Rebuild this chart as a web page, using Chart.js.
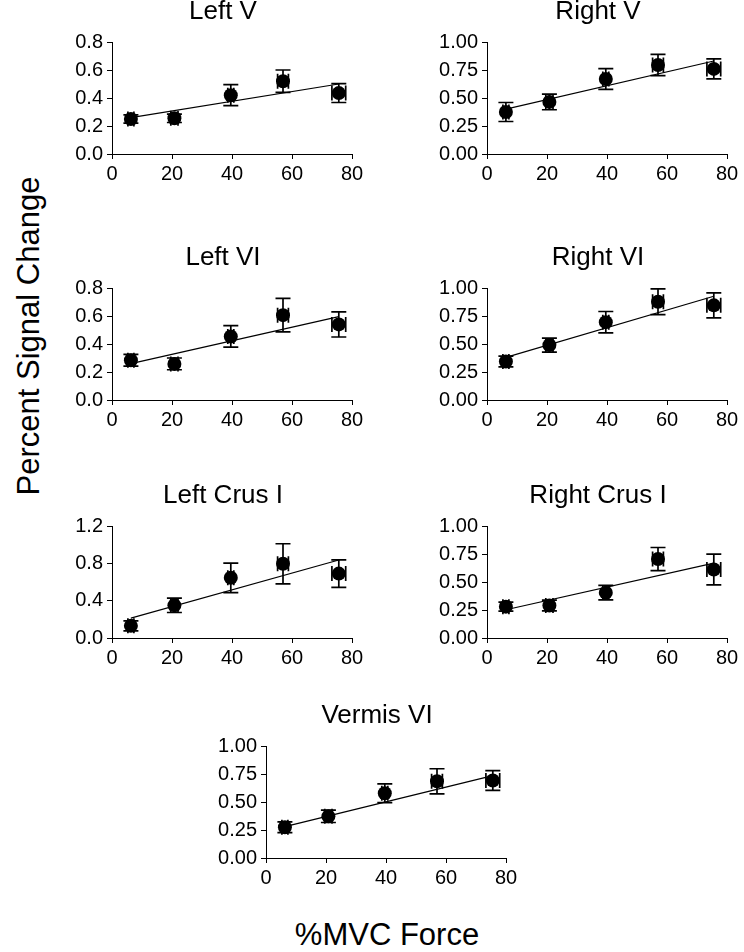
<!DOCTYPE html>
<html><head><meta charset="utf-8">
<script src="https://cdn.jsdelivr.net/npm/chart.js@4/dist/chart.umd.min.js"></script>
<style>
html,body{margin:0;padding:0;background:#fff;}
body{width:744px;height:952px;position:relative;overflow:hidden;font-family:"Liberation Sans",Arial,sans-serif;color:#000;}
.panel{position:absolute;}
#ytitle{position:absolute;left:28px;top:336px;transform:translate(-50%,-50%) rotate(-90deg);font-size:31px;white-space:nowrap;line-height:1;}
#xtitle{position:absolute;left:387px;top:934px;transform:translate(-50%,-50%);font-size:31px;white-space:nowrap;line-height:1;}
</style></head>
<body>
<div id="ytitle">Percent Signal Change</div>
<div id="xtitle">%MVC Force</div>
<script>
// ---- data ----
const panelTitles = ['Left V', 'Right V', 'Left VI', 'Right VI', 'Left Crus I', 'Right Crus I', 'Vermis VI'];
const forceX    = [6.3, 20.8, 39.6, 57.0, 75.6];
const forceXErr = [1.0, 1.2, 1.0, 1.8, 2.3];

const leftV      = [0.250, 0.255, 0.420, 0.520, 0.435];
const leftVErr   = [0.030, 0.030, 0.075, 0.080, 0.067];
const rightV     = [0.375, 0.465, 0.670, 0.795, 0.760];
const rightVErr  = [0.085, 0.070, 0.093, 0.095, 0.090];
const leftVI     = [0.284, 0.258, 0.454, 0.606, 0.540];
const leftVIErr  = [0.042, 0.042, 0.077, 0.120, 0.090];
const rightVI    = [0.344, 0.490, 0.695, 0.877, 0.845];
const rightVIErr = [0.048, 0.063, 0.095, 0.115, 0.112];
const leftCrusI     = [0.130, 0.350, 0.645, 0.795, 0.690];
const leftCrusIErr  = [0.053, 0.077, 0.158, 0.215, 0.147];
const rightCrusI    = [0.280, 0.290, 0.405, 0.705, 0.612];
const rightCrusIErr = [0.040, 0.048, 0.065, 0.103, 0.137];
const vermisVI      = [0.275, 0.372, 0.578, 0.685, 0.692];
const vermisVIErr   = [0.048, 0.055, 0.084, 0.112, 0.089];

// regression line end values at fitX
const fitX = [6.3, 75.6];
const leftVFit      = [0.260, 0.500];
const rightVFit     = [0.400, 0.830];
const leftVIFit     = [0.260, 0.596];
const rightVIFit    = [0.380, 0.926];
const leftCrusIFit  = [0.213, 0.836];
const rightCrusIFit = [0.252, 0.668];
const vermisVIFit   = [0.280, 0.735];

const yTickMax      = [0.8, 1.0, 0.8, 1.0, 1.2, 1.0, 1.0];
const yTickStep     = [0.2, 0.25, 0.2, 0.25, 0.4, 0.25, 0.25];
const yTickDecimals = [1, 2, 1, 2, 1, 2, 2];
const xTickMax = 80, xTickStep = 20;

const means = [leftV, rightV, leftVI, rightVI, leftCrusI, rightCrusI, vermisVI];
const errs  = [leftVErr, rightVErr, leftVIErr, rightVIErr, leftCrusIErr, rightCrusIErr, vermisVIErr];
const fits  = [leftVFit, rightVFit, leftVIFit, rightVIFit, leftCrusIFit, rightCrusIFit, vermisVIFit];

// ---- layout (plot-area left/top) ----
const panelPos = [[112,42],[487,42],[112,288],[487,288],[112,526],[487,526],[266,746]];
const AX_W = 70, AX_H = 40, PAD_T = 50, PAD_R = 20, PLOT_W = 240, PLOT_H = 112;
const FONT = '"Liberation Sans", Arial, sans-serif';

const errorBars = {
  id: 'errorBars',
  beforeDatasetsDraw(chart, args, opts) {
    const {ctx, scales: {x, y}} = chart;
    const p = opts.panel, cap = 7.5;
    ctx.save();
    ctx.strokeStyle = '#000';
    ctx.lineWidth = 1.7;
    forceX.forEach((fx, i) => {
      const m = means[p][i], e = errs[p][i], xe = forceXErr[i];
      const px = x.getPixelForValue(fx), py = y.getPixelForValue(m);
      const yt = y.getPixelForValue(m + e), yb = y.getPixelForValue(m - e);
      const xl = x.getPixelForValue(fx - xe), xr = x.getPixelForValue(fx + xe);
      ctx.beginPath();
      ctx.moveTo(px, yt); ctx.lineTo(px, yb);
      ctx.moveTo(px - cap, yt); ctx.lineTo(px + cap, yt);
      ctx.moveTo(px - cap, yb); ctx.lineTo(px + cap, yb);
      ctx.moveTo(xl, py); ctx.lineTo(xr, py);
      ctx.moveTo(xl, py - cap); ctx.lineTo(xl, py + cap);
      ctx.moveTo(xr, py - cap); ctx.lineTo(xr, py + cap);
      ctx.stroke();
    });
    ctx.restore();
  }
};

const panelTitle = {
  id: 'panelTitle',
  afterDraw(chart, args, opts) {
    const {ctx, chartArea} = chart;
    ctx.save();
    ctx.font = '26px ' + FONT;
    ctx.fillStyle = '#000';
    ctx.textAlign = 'center';
    ctx.textBaseline = 'alphabetic';
    ctx.fillText(opts.text, chartArea.left + 111, chartArea.top - 23);
    ctx.restore();
  }
};

panelTitles.forEach((title, idx) => {
  const [L, T] = panelPos[idx];
  const div = document.createElement('div');
  div.className = 'panel';
  div.style.left = (L - AX_W) + 'px';
  div.style.top = (T - PAD_T) + 'px';
  const W = AX_W + PLOT_W + PAD_R, H = PAD_T + PLOT_H + AX_H;
  const canvas = document.createElement('canvas');
  canvas.width = W; canvas.height = H;
  canvas.style.width = W + 'px'; canvas.style.height = H + 'px';
  div.appendChild(canvas);
  document.body.appendChild(div);
  const dec = yTickDecimals[idx];
  new Chart(canvas, {
    type: 'scatter',
    data: {
      datasets: [
        {
          type: 'line',
          data: fitX.map((x, i) => ({x, y: fits[idx][i]})),
          borderColor: '#000', borderWidth: 1.2, pointRadius: 0, fill: false, order: 2
        },
        {
          data: forceX.map((x, i) => ({x, y: means[idx][i]})),
          pointRadius: 7, backgroundColor: '#000', borderColor: '#000', borderWidth: 0, order: 1
        }
      ]
    },
    options: {
      responsive: false, animation: false, events: [],
      layout: {padding: {left: 0, right: PAD_R, top: PAD_T, bottom: 0}},
      plugins: {
        legend: {display: false}, tooltip: {enabled: false}, title: {display: false},
        errorBars: {panel: idx}, panelTitle: {text: title}
      },
      scales: {
        x: {
          type: 'linear', min: 0, max: xTickMax,
          ticks: {stepSize: xTickStep, color: '#000', font: {family: FONT, size: 20}, padding: 3, maxRotation: 0},
          grid: {drawOnChartArea: false, drawTicks: true, tickLength: 5, color: '#000', lineWidth: 1},
          border: {display: true, color: '#000', width: 1},
          afterFit(s) { s.height = AX_H; }
        },
        y: {
          type: 'linear', min: 0, max: yTickMax[idx],
          ticks: {stepSize: yTickStep[idx], color: '#000', font: {family: FONT, size: 20}, padding: 4,
                  callback: v => Number(v).toFixed(dec)},
          grid: {drawOnChartArea: false, drawTicks: true, tickLength: 5, color: '#000', lineWidth: 1},
          border: {display: true, color: '#000', width: 1},
          afterFit(s) { s.width = AX_W; }
        }
      }
    },
    plugins: [errorBars, panelTitle]
  });
});
</script>
</body></html>
